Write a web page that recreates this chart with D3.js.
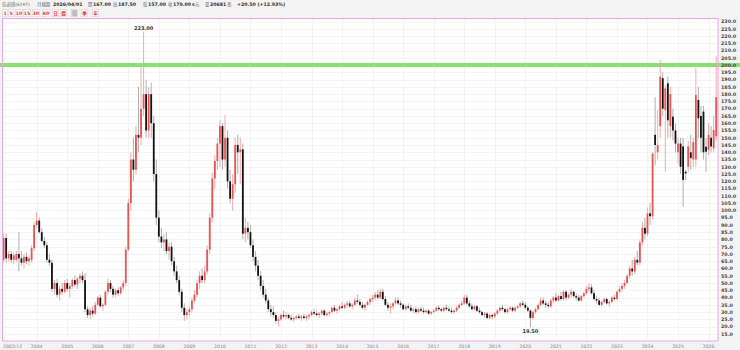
<!DOCTYPE html>
<html>
<head>
<meta charset="utf-8">
<script src="https://cdn.jsdelivr.net/npm/d3@7"></script>
<style>
  body { margin: 0; background: #f3f3f3; }
  svg { display: block; font-family: "DejaVu Sans", "Noto Sans CJK TC", sans-serif; }
</style>
</head>
<body>
<svg id="chart" width="740" height="350"></svg>
<script>
//////////////////////////// data ////////////////////////////
// monthly candles [open, high, low, close], first month 2002/12
const m2002 = [[66,84,64,81]];
const m2003 = [[81,84,64,67],[67,72,65,70],[70,72,64,66],[66,71,63,69],[66,72,64,70],[70,85,58,67],
               [67,72,62,64],[64,70,60,68],[68,71,63,65],[65,69,62,67],[66,76,64,74],[74,92,72,90]];
const m2004 = [[90,99,88,93],[93,95,84,85],[85,88,78,79],[79,82,74,76],[76,78,64,66],[66,70,62,64],
               [64,66,44,46],[46,52,42,50],[50,53,40,42],[42,48,38,46],[46,50,42,44],[44,52,43,50]];
const m2005 = [[50,53,44,46],[46,50,40,48],[48,53,46,52],[52,55,47,49],[49,54,46,53],[53,57,50,55],
               [55,58,50,52],[52,57,30,32],[32,34,26,28],[28,33,25,31],[31,34,27,29],[29,37,28,35]];
const m2006 = [[35,41,34,40],[40,42,33,34],[34,36,31,35],[35,45,34,44],[44,53,42,50],[50,52,44,46],
               [46,48,40,42],[42,46,40,45],[45,47,41,43],[43,48,42,47],[47,52,45,50],[50,75,48,73]];
const m2007 = [[73,108,72,105],[105,140,100,135],[135,150,120,128],[128,158,125,152],[152,185,140,150],[150,200,145,170],
               [170,223,165,180],[180,190,150,155],[155,185,150,180],[180,188,150,160],[160,165,120,125],[125,135,90,95]];
const m2008 = [[95,100,78,82],[82,88,74,78],[78,84,72,80],[80,85,70,72],[72,78,66,75],[75,78,62,65],
               [65,68,55,58],[58,62,50,52],[52,55,42,44],[44,46,30,33],[33,36,24,28],[28,32,25,30]];
const m2009 = [[30,34,27,32],[32,40,30,38],[38,45,36,42],[42,52,40,50],[50,58,46,55],[55,60,50,52],
               [52,62,50,58],[58,76,56,73],[73,98,70,95],[95,126,92,122],[122,138,115,134],[134,150,128,146]];
const m2010 = [[146,162,130,158],[158,160,128,135],[135,166,130,150],[150,155,115,120],[120,128,105,108],[108,125,100,118],
               [118,150,112,145],[145,152,125,140],[140,150,118,142],[142,146,80,84],[84,95,78,88],[88,92,80,85]];
const m2011 = [[85,90,74,76],[76,80,65,68],[68,72,58,62],[62,66,52,55],[55,58,45,48],[48,52,40,42],
               [42,46,36,38],[38,40,30,32],[32,35,27,30],[30,34,26,28],[28,30,22,24],[24,27,20,25]];
const m2012 = [[25,29,24,28],[28,31,26,27],[27,30,25,28],[28,29,25,26],[26,28,24,25],[25,27,23,26],
               [26,28,25,27],[27,29,25,26],[26,28,24,27],[27,29,25,26],[26,28,24,27],[27,29,25,28]];
const m2013 = [[28,31,27,30],[30,32,28,29],[29,31,27,28],[28,30,26,29],[29,32,28,31],[31,32,27,28],
               [28,30,27,29],[29,31,27,30],[30,34,29,33],[33,35,30,31],[31,33,29,32],[32,35,31,34]];
const m2014 = [[34,37,32,33],[33,36,32,35],[35,38,33,36],[36,38,33,34],[34,36,32,35],[35,40,34,38],
               [38,42,36,37],[37,39,34,35],[35,37,32,33],[33,36,31,35],[35,38,34,37],[37,40,35,39]];
const m2015 = [[39,42,37,40],[40,44,38,42],[42,45,39,40],[40,46,39,44],[44,46,38,39],[39,41,34,35],
               [35,37,31,33],[33,36,29,34],[34,37,32,36],[36,40,35,38],[38,40,35,36],[36,38,33,35]];
const m2016 = [[35,36,31,32],[32,35,31,34],[34,36,32,33],[33,35,30,31],[31,33,29,32],[32,34,29,30],
               [30,33,29,32],[32,34,30,31],[31,33,29,30],[30,32,29,31],[31,32,28,29],[29,31,28,30]];
const m2017 = [[30,32,29,31],[31,34,30,33],[33,35,31,32],[32,33,30,31],[31,34,30,33],[33,35,31,32],
               [32,34,30,31],[31,33,29,30],[30,32,29,31],[31,34,30,33],[33,36,32,35],[35,38,34,36]];
const m2018 = [[36,42,35,40],[40,42,35,36],[36,38,33,34],[34,36,31,32],[32,35,31,34],[34,35,30,31],
               [31,33,29,30],[30,31,27,28],[28,30,26,29],[29,30,25,26],[26,29,25,28],[28,29,25,27]];
const m2019 = [[27,30,26,29],[29,32,28,31],[31,34,30,33],[33,35,31,32],[32,33,29,30],[30,33,29,32],
               [32,34,31,33],[33,34,30,31],[31,34,30,33],[33,35,32,34],[34,37,33,36],[36,38,34,35]];
const m2020 = [[35,37,32,33],[33,34,30,31],[31,32,19.5,26],[26,31,25,30],[30,33,29,32],[32,36,31,35],
               [35,40,34,38],[38,40,35,36],[36,38,33,35],[35,37,33,34],[34,39,33,38],[38,41,36,40]];
const m2021 = [[40,43,37,38],[38,42,37,41],[41,44,38,39],[39,45,38,44],[44,45,38,40],[40,43,39,42],
               [42,46,40,44],[44,45,40,41],[41,43,38,40],[40,42,37,38],[38,42,37,41],[41,44,40,43]];
const m2022 = [[43,48,42,46],[46,50,44,47],[47,49,42,43],[43,45,38,39],[39,41,36,38],[38,40,34,35],
               [35,38,34,37],[37,40,36,39],[39,40,35,36],[36,38,34,37],[37,41,36,40],[40,42,38,39]];
const m2023 = [[39,45,38,44],[44,48,43,46],[46,50,44,48],[48,52,46,50],[50,56,49,55],[55,62,53,60],
               [60,66,55,58],[58,68,56,66],[66,72,62,64],[64,80,62,78],[78,92,76,88],[88,95,80,84]];
const m2024 = [[84,102,82,98],[98,105,90,96],[96,140,94,139],[152,178,131,145],[140,169,135,145],[158,203.5,150,192],
               [191,195,165,170],[169,186,126.6,184],[187.5,192,150,162],[158,185,150,180],[164.5,170,148,155],[155,160,140,146]];
const m2025 = [[140,150,132,146],[146,150,125,130],[144,150,102.5,121],[126.6,128,121,125.5],[130,148,126,144],[140,152,128,136],
               [135,150,130,147],[135,197.8,130,179.4],[176,185,150,163.4],[165,172,140,150],[168,172,135,140],[143.8,150,126.6,140.4]];
const m2026 = [[141.6,160,138,152],[150,158,140,144],[142.7,165,140,155.3],[151,206,148,178]];

const yearLabels = ["2002/12","2004","2005","2006","2007","2008","2009","2010","2011","2012","2013","2014",
                    "2015","2016","2017","2018","2019","2020","2021","2022","2023","2024","2025","2026"];
const yTicks = d3.range(15, 231, 5);
const peak = { label: "223.00", value: 223 };
const trough = { label: "19.50", value: 19.5 };
const refLine = 200;

const header = [
  { t: "佳必琪(6197)", x: 2, b: false, c: "#666" },
  { t: "月線圖", x: 37, b: false, c: "#666" },
  { t: "2026/04/01", x: 53, b: true, c: "#333" },
  { t: "開", x: 88, b: false, c: "#666" }, { t: "167.00", x: 93, b: true, c: "#333" },
  { t: "高", x: 113, b: false, c: "#666" }, { t: "187.50", x: 118, b: true, c: "#333" },
  { t: "低", x: 143, b: false, c: "#666" }, { t: "157.00", x: 148, b: true, c: "#333" },
  { t: "收", x: 168, b: false, c: "#666" }, { t: "179.00", x: 173, b: true, c: "#333" },
  { t: "s", x: 192, b: true, c: "#333" },
  { t: "元", x: 195, b: false, c: "#666" },
  { t: "量", x: 205, b: false, c: "#666" }, { t: "20681", x: 210, b: true, c: "#333" },
  { t: "張", x: 227, b: false, c: "#666" },
  { t: "+20.50 (+12.93%)", x: 237, b: true, c: "#333" }
];
const buttons = ["1","5","10","15","30","60","日","週","月","季","年"];
const buttonX = [2, 8, 15, 23, 32, 42, 52, 60, 71, 81, 92];
const buttonW = [5, 5, 7, 7, 7, 7, 6, 6, 6, 6, 6];
const activeButton = "月";

//////////////////////////// build table ////////////////////////////
const candles = [m2002, m2003, m2004, m2005, m2006, m2007, m2008, m2009, m2010, m2011, m2012, m2013, m2014,
  m2015, m2016, m2017, m2018, m2019, m2020, m2021, m2022, m2023, m2024, m2025, m2026]
  .flat()
  .map((d, i) => ({ i, o: d[0], h: d[1], l: d[2], c: d[3] }));

// candle index of each label: first month, then January of each year
const labelIndex = yearLabels.map((d, k) => (k === 0 ? 0 : 13 + (k - 1) * 12));

//////////////////////////// svg ////////////////////////////
const svg = d3.select("#chart");

const dims = { left: 2.5, top: 18.5, right: 718, bottom: 341 };

const xScale = d3.scaleLinear().domain([0, candles.length - 1]).range([3.6, 716.2]);
const yScale = d3.scaleLinear().domain([15, 230]).range([333.9, 21.5]);

svg.append("rect").attr("width", 740).attr("height", 350).attr("fill", "#f3f3f3");

// header
svg.append("g").selectAll("text").data(header).join("text")
  .attr("x", d => d.x).attr("y", 6.3)
  .attr("font-size", d => (d.b ? 4.7 : 4.4))
  .attr("font-weight", d => (d.b ? "bold" : "normal"))
  .attr("fill", d => d.c)
  .text(d => d.t);

const btnG = svg.append("g");
buttons.forEach((b, k) => {
  btnG.append("rect")
    .attr("x", buttonX[k] + 0.5).attr("y", 9.5).attr("width", buttonW[k]).attr("height", 7.2)
    .attr("fill", b === activeButton ? "#cdcdcd" : "#fff")
    .attr("stroke", "#d6d6d6").attr("stroke-width", 0.6);
  btnG.append("text")
    .attr("x", buttonX[k] + 0.5 + buttonW[k] / 2).attr("y", 15)
    .attr("text-anchor", "middle")
    .attr("font-size", 4.6).attr("font-weight", "bold")
    .attr("fill", b === activeButton ? "#aaa" : "#e33")
    .text(b);
});

// plot area
svg.append("rect")
  .attr("x", dims.left).attr("y", dims.top)
  .attr("width", dims.right - dims.left).attr("height", dims.bottom - dims.top)
  .attr("fill", "#fff");

// grid
const grid = svg.append("g").attr("stroke", "#efefef").attr("stroke-width", 0.7);
grid.selectAll("line.h").data(yTicks).join("line")
  .attr("class", "h")
  .attr("x1", dims.left).attr("x2", dims.right)
  .attr("y1", d => Math.round(yScale(d)) + 0.5).attr("y2", d => Math.round(yScale(d)) + 0.5);
grid.selectAll("line.v").data(labelIndex.slice(1)).join("line")
  .attr("class", "v")
  .attr("x1", d => Math.round(xScale(d)) + 0.5).attr("x2", d => Math.round(xScale(d)) + 0.5)
  .attr("y1", dims.top).attr("y2", dims.bottom);

// reference line
svg.append("line")
  .attr("x1", 0).attr("x2", 740)
  .attr("y1", yScale(refLine)).attr("y2", yScale(refLine))
  .attr("stroke", "#8ae070").attr("stroke-width", 4);

// candles
const up = d => d.c >= d.o;
const cg = svg.append("g");
cg.selectAll("line").data(candles).join("line")
  .attr("x1", d => xScale(d.i)).attr("x2", d => xScale(d.i))
  .attr("y1", d => yScale(d.h)).attr("y2", d => yScale(d.l))
  .attr("stroke", d => (up(d) ? "#f4a3a3" : "#a8a8a8"))
  .attr("stroke-width", 0.9);
cg.selectAll("rect").data(candles).join("rect")
  .attr("x", d => xScale(d.i) - 0.9)
  .attr("width", 1.8)
  .attr("y", d => yScale(Math.max(d.o, d.c)))
  .attr("height", d => Math.max(0.8, Math.abs(yScale(d.o) - yScale(d.c))))
  .attr("fill", d => (up(d) ? "#ec5353" : "#141414"));

// frame border
svg.append("rect")
  .attr("x", dims.left).attr("y", dims.top)
  .attr("width", dims.right - dims.left).attr("height", dims.bottom - dims.top)
  .attr("fill", "none").attr("stroke", "#e7a9e7").attr("stroke-width", 1);

// high / low annotations
const peakI = candles.find(d => d.h === peak.value).i;
const troughI = candles.find(d => d.l === trough.value).i;
svg.append("text")
  .attr("x", xScale(peakI)).attr("y", yScale(peak.value) - 1.5)
  .attr("text-anchor", "middle").attr("font-size", 5).attr("font-weight", "bold").attr("fill", "#333")
  .text(peak.label);
svg.append("text")
  .attr("x", xScale(troughI)).attr("y", yScale(trough.value) + 5.5)
  .attr("text-anchor", "middle").attr("font-size", 5).attr("font-weight", "bold").attr("fill", "#333")
  .text(trough.label);

// y axis labels
svg.append("g").selectAll("text").data(yTicks).join("text")
  .attr("x", 721).attr("y", d => yScale(d) + 1.8)
  .attr("font-size", 4.8).attr("font-weight", "bold").attr("fill", "#444")
  .text(d => d3.format(".1f")(d));

// x axis labels
svg.append("g").selectAll("text").data(yearLabels).join("text")
  .attr("x", (d, k) => (k === 0 ? 3 : xScale(labelIndex[k])))
  .attr("y", 347.5)
  .attr("text-anchor", (d, k) => (k === 0 ? "start" : "middle"))
  .attr("font-size", 4.6).attr("fill", "#888")
  .text(d => d);
</script>
</body>
</html>
